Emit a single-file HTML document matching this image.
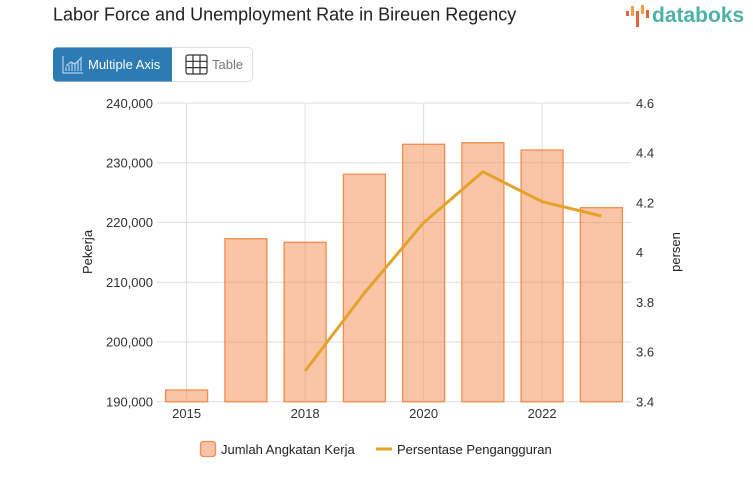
<!DOCTYPE html>
<html><head><meta charset="utf-8"><style>
html,body{margin:0;padding:0;background:#fff;}
body{width:753px;height:498px;overflow:hidden;font-family:"Liberation Sans",sans-serif;}
</style></head><body>
<svg width="753" height="498" viewBox="0 0 753 498" xmlns="http://www.w3.org/2000/svg" font-family="Liberation Sans, sans-serif">
<rect width="753" height="498" fill="#fff"/>
<text x="53" y="20.5" font-size="18" fill="#222">Labor Force and Unemployment Rate in Bireuen Regency</text>
<!-- logo -->
<g fill="#e8623f">
<rect x="626" y="11" width="3" height="5" fill="#e8623f"/>
<rect x="631" y="6" width="3" height="10" fill="#f0a04a"/>
<rect x="636" y="11" width="3" height="16" fill="#e8623f"/>
<rect x="641" y="5" width="3" height="9" fill="#f0a04a"/>
<rect x="646" y="10" width="3" height="8" fill="#e8623f"/>
</g>
<text x="652" y="22" font-size="21" fill="#4cb2a8" font-weight="bold">databoks</text>
<!-- buttons -->
<rect x="53.5" y="47.5" width="199" height="34" rx="4" fill="#fff" stroke="#ddd"/>
<path d="M57 47.5 H172 V81.5 H57 a4 4 0 0 1 -4 -4 V51.5 a4 4 0 0 1 4 -4z" fill="#2d7bb5"/>
<g stroke="#cfe2f1" fill="none" stroke-width="1">
<path d="M63 56 V73 H83"/>
<path d="M66 71 V67 M69 71 V65 M72 71 V63 M75 71 V64 M78 71 V61 M81 71 V59"/>
<path d="M66 66 L71 62 L75 64 L82 57"/>
</g>
<text x="88" y="69" font-size="13" fill="#fff">Multiple Axis</text>
<g stroke="#333" fill="none" stroke-width="1.2">
<rect x="186" y="55" width="21" height="19" rx="2"/>
<path d="M193 55 V74 M200 55 V74 M186 61.3 H207 M186 67.6 H207"/>
</g>
<text x="212" y="69" font-size="13" fill="#777">Table</text>
<!-- grid -->
<g stroke="#dedede" stroke-width="1">
<line x1="157" x2="631" y1="103" y2="103"/>
<line x1="157" x2="631" y1="162.8" y2="162.8"/>
<line x1="157" x2="631" y1="222.5" y2="222.5"/>
<line x1="157" x2="631" y1="282.3" y2="282.3"/>
<line x1="157" x2="631" y1="342" y2="342"/>
<line x1="157" x2="631" y1="401.7" y2="401.7"/>
<line x1="186.6" x2="186.6" y1="103" y2="401.7"/>
<line x1="305.1" x2="305.1" y1="103" y2="401.7"/>
<line x1="423.6" x2="423.6" y1="103" y2="401.7"/>
<line x1="542.1" x2="542.1" y1="103" y2="401.7"/>
</g>
<!-- bars -->
<g fill="rgba(243,133,68,0.48)" stroke="#f38b4d" stroke-width="1.3">
<rect x="165.6" y="390" width="42" height="11.7"/>
<rect x="224.9" y="238.7" width="42" height="163"/>
<rect x="284.1" y="242.3" width="42" height="159.4"/>
<rect x="343.4" y="174.3" width="42" height="227.4"/>
<rect x="402.6" y="144.3" width="42" height="257.4"/>
<rect x="461.9" y="142.7" width="42" height="259"/>
<rect x="521.1" y="150" width="42" height="251.7"/>
<rect x="580.4" y="207.7" width="42" height="194"/>
</g>
<!-- line -->
<polyline points="305.1,371 364.4,293 423.6,222.7 482.9,171.7 542.1,201.7 601.4,216" fill="none" stroke="#e3a32a" stroke-width="3" stroke-linejoin="round"/>
<!-- left axis labels -->
<g font-size="13" fill="#333" text-anchor="end">
<text x="153" y="108">240,000</text>
<text x="153" y="167.5">230,000</text>
<text x="153" y="227">220,000</text>
<text x="153" y="287">210,000</text>
<text x="153" y="346.5">200,000</text>
<text x="153" y="406.5">190,000</text>
</g>
<!-- right axis labels -->
<g font-size="13" fill="#333">
<text x="636" y="108">4.6</text>
<text x="636" y="157.7">4.4</text>
<text x="636" y="207.5">4.2</text>
<text x="636" y="257">4</text>
<text x="636" y="307">3.8</text>
<text x="636" y="356.5">3.6</text>
<text x="636" y="406.5">3.4</text>
</g>
<!-- x labels -->
<g font-size="13" fill="#333" text-anchor="middle">
<text x="186.6" y="418">2015</text>
<text x="305.1" y="418">2018</text>
<text x="423.6" y="418">2020</text>
<text x="542.1" y="418">2022</text>
</g>
<text transform="translate(92,252) rotate(-90)" font-size="13" fill="#222" text-anchor="middle">Pekerja</text>
<text transform="translate(680,252) rotate(-90)" font-size="13" fill="#222" text-anchor="middle">persen</text>
<!-- legend -->
<rect x="200.5" y="441.5" width="15" height="15" rx="3" fill="rgba(243,133,68,0.48)" stroke="#f38b4d" stroke-width="1.3"/>
<text x="221" y="454" font-size="13" fill="#222">Jumlah Angkatan Kerja</text>
<line x1="376" x2="392" y1="449" y2="449" stroke="#e3a32a" stroke-width="3"/>
<text x="397" y="454" font-size="13" fill="#222">Persentase Pengangguran</text>
</svg>
</body></html>
